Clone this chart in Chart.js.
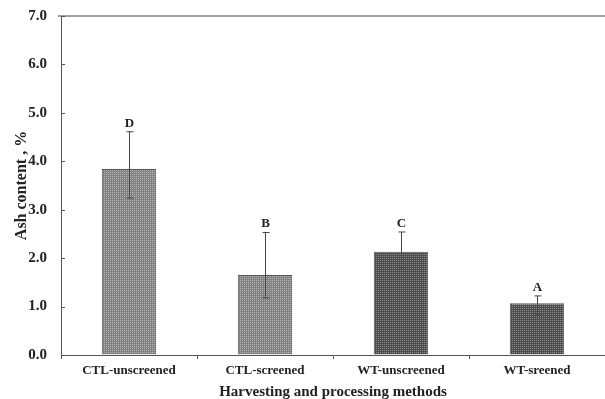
<!DOCTYPE html>
<html>
<head>
<meta charset="utf-8">
<script src="https://cdn.jsdelivr.net/npm/chart.js@4.4.1/dist/chart.umd.min.js"></script>
<style>
  html, body { margin: 0; padding: 0; background: #fff; }
  #wrap { width: 605px; height: 399px; }
</style>
</head>
<body>
<div id="wrap"><canvas id="chart"></canvas></div>
<script>
const categories = ['CTL-unscreened', 'CTL-screened', 'WT-unscreened', 'WT-sreened'];
const ashValues = [3.84, 1.65, 2.13, 1.07];
const errUpper = [4.61, 2.53, 2.54, 1.22];
const errLower = [3.24, 1.18, 1.80, 0.83];
const groupLetters = ['D', 'B', 'C', 'A'];
const yTicks = [0, 1, 2, 3, 4, 5, 6, 7];

const FONT = "'Liberation Serif', 'Times New Roman', serif";

// dotted fill like the original bars
function makePattern(base, dot) {
    const c = document.createElement('canvas');
    c.width = 4; c.height = 4;
    const g = c.getContext('2d');
    g.fillStyle = base;
    g.fillRect(0, 0, 4, 4);
    g.fillStyle = dot;
    g.fillRect(0, 0, 1, 1);
    g.fillRect(2, 2, 1, 1);
    g.fillRect(2, 0, 1, 1);
    g.fillRect(0, 2, 1, 1);
    return g.createPattern(c, 'repeat');
}
const lightFill = makePattern('#828282', '#b4b4b4');
const darkFill = makePattern('#4e4e4e', '#8a8a8a');

const errorBars = {
    id: 'errorBars',
    afterDatasetsDraw(chart) {
        const ctx = chart.ctx;
        const x = chart.scales.x, y = chart.scales.y;
        ctx.save();
        ctx.strokeStyle = '#444';
        ctx.lineWidth = 1;
        categories.forEach((c, i) => {
            const px = Math.round(x.getPixelForValue(i)) + 0.5;
            const top = y.getPixelForValue(errUpper[i]);
            const bot = y.getPixelForValue(errLower[i]);
            ctx.beginPath();
            ctx.moveTo(px, top); ctx.lineTo(px, bot);
            ctx.moveTo(px - 3, top); ctx.lineTo(px + 4, top);
            ctx.moveTo(px - 3, bot); ctx.lineTo(px + 4, bot);
            ctx.stroke();
            ctx.fillStyle = '#222';
            ctx.font = 'bold 13px ' + FONT;
            ctx.textAlign = 'center';
            ctx.textBaseline = 'bottom';
            ctx.fillText(groupLetters[i], px, top - 2);
        });
        ctx.restore();
    }
};

const frame = {
    id: 'frame',
    afterDraw(chart) {
        const ctx = chart.ctx;
        const a = chart.chartArea, y = chart.scales.y;
        ctx.save();
        ctx.strokeStyle = '#a0a0a0';
        ctx.lineWidth = 2;
        ctx.beginPath();
        ctx.moveTo(a.left - 3, a.top); ctx.lineTo(a.right, a.top);
        ctx.stroke();
        // inside ticks on y axis
        ctx.strokeStyle = '#555';
        ctx.lineWidth = 1;
        ctx.beginPath();
        yTicks.forEach(v => {
            const py = Math.round(y.getPixelForValue(v)) + 0.5;
            ctx.moveTo(a.left, py); ctx.lineTo(a.left + 4, py);
        });
        ctx.stroke();
        ctx.restore();
    }
};

new Chart(document.getElementById('chart'), {
    type: 'bar',
    data: {
        labels: categories,
        datasets: [{
            data: ashValues,
            backgroundColor: [lightFill, lightFill, darkFill, darkFill],
            borderColor: '#555',
            borderWidth: 1,
            categoryPercentage: 1,
            barPercentage: 0.4
        }]
    },
    options: {
        responsive: true,
        maintainAspectRatio: false,
        animation: false,
        layout: { padding: { top: 16, right: 0, left: 0, bottom: 0 } },
        plugins: { legend: { display: false }, tooltip: { enabled: false } },
        scales: {
            x: {
                afterFit(scale) { scale.height = 44; },
                grid: { display: true, offset: true, drawOnChartArea: false, tickLength: 4, color: '#555' },
                border: { color: '#555', width: 1 },
                ticks: { color: '#222', font: { family: FONT, size: 13, weight: 'bold' }, padding: 4 },
                title: { display: true, text: 'Harvesting and processing methods', color: '#222',
                         font: { family: FONT, size: 15, weight: 'bold' }, padding: { top: 0, bottom: -2 } }
            },
            y: {
                min: 0, max: 7,
                afterFit(scale) { scale.width = 61; scale.paddingTop = 0; scale.paddingBottom = 0; },
                afterBuildTicks(scale) { scale.ticks = yTicks.map(v => ({ value: v })); },
                grid: { drawOnChartArea: false, drawTicks: false },
                border: { color: '#555', width: 1 },
                ticks: { color: '#222', padding: 14, font: { family: FONT, size: 15, weight: 'bold' },
                         callback: v => v.toFixed(1) },
                title: { display: true, text: 'Ash content , %', color: '#222',
                         font: { family: FONT, size: 16, weight: 'bold' }, padding: { top: 12, bottom: 0 } }
            }
        }
    },
    plugins: [errorBars, frame]
});
</script>
</body>
</html>
